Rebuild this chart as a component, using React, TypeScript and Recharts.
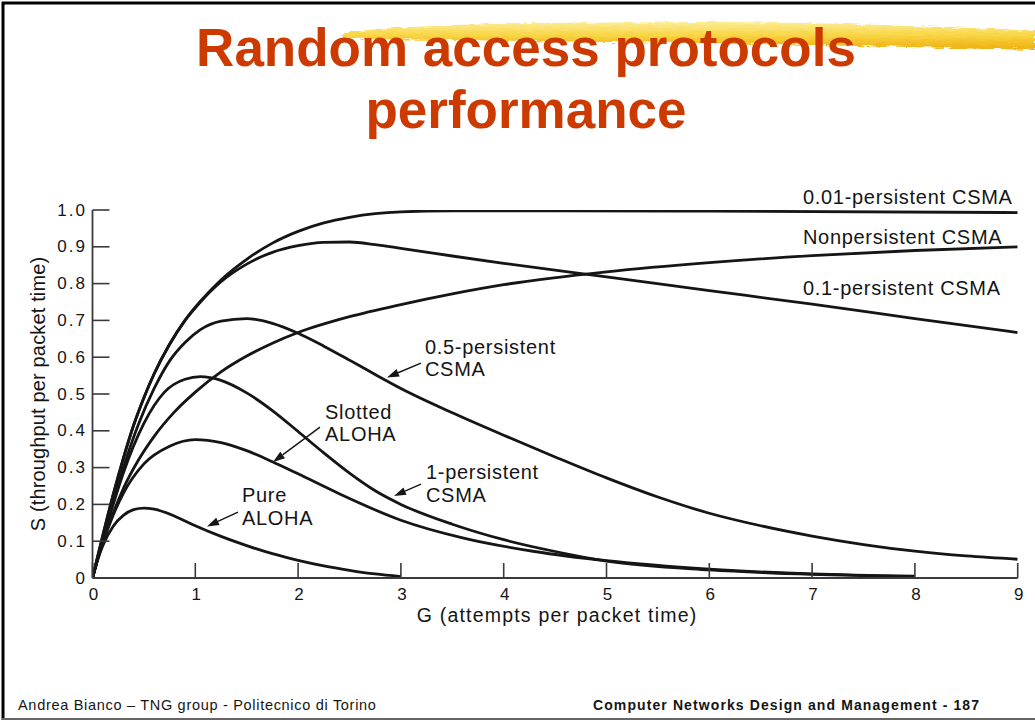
import React from 'react';
import { LineChart, Line, XAxis, YAxis, ReferenceDot, ReferenceLine } from 'recharts';

const FONT = '"Liberation Sans", Arial, Helvetica, sans-serif';

// ---- axes ----
const xTicks = [0, 1, 2, 3, 4, 5, 6, 7, 8, 9];
const yTicks = [0, 0.1, 0.2, 0.3, 0.4, 0.5, 0.6, 0.7, 0.8, 0.9, 1.0];
const yTickLabels = ['0', '0.1', '0.2', '0.3', '0.4', '0.5', '0.6', '0.7', '0.8', '0.9', '1.0'];

// ---- series (G = attempts per packet time, S = throughput per packet time) ----
const pureG = [0, 0.05, 0.1, 0.2, 0.3, 0.4, 0.5, 0.6, 0.8, 1.0, 1.25, 1.5, 1.75, 2.0, 2.25, 2.5, 2.75, 3.0];
const pureS = [0, 0.05, 0.088, 0.14, 0.17, 0.186, 0.19, 0.187, 0.168, 0.142, 0.113, 0.088, 0.066, 0.048, 0.033, 0.021, 0.011, 0.004];

const slottedG = [0, 0.05, 0.1, 0.2, 0.3, 0.5, 0.75, 1.0, 1.25, 1.5, 1.75, 2.0, 2.4, 3.0, 3.6, 4.3, 5.0, 6.0, 7.0, 8.0];
const slottedS = [0, 0.05, 0.095, 0.17, 0.23, 0.31, 0.358, 0.376, 0.368, 0.346, 0.316, 0.283, 0.229, 0.157, 0.109, 0.072, 0.047, 0.024, 0.011, 0.005];

const p1G = [0, 0.05, 0.1, 0.2, 0.3, 0.5, 0.7, 0.9, 1.05, 1.25, 1.5, 1.75, 2.0, 2.25, 2.5, 2.75, 3.0, 3.5, 4.0, 4.5, 5.0, 6.0, 7.0, 8.0];
const p1S = [0, 0.052, 0.103, 0.198, 0.285, 0.42, 0.505, 0.54, 0.547, 0.537, 0.503, 0.455, 0.398, 0.34, 0.285, 0.237, 0.2, 0.146, 0.104, 0.072, 0.046, 0.022, 0.01, 0.004];

const p05G = [0, 0.05, 0.1, 0.2, 0.3, 0.45, 0.6, 0.75, 0.9, 1.05, 1.25, 1.5, 1.75, 2.0, 2.25, 2.5, 2.75, 3.0, 3.5, 4.0, 4.5, 5.0, 5.5, 6.0, 6.5, 7.0, 7.5, 8.0, 8.5, 9.0];
const p05S = [0, 0.054, 0.107, 0.208, 0.3, 0.42, 0.515, 0.59, 0.64, 0.675, 0.698, 0.705, 0.692, 0.665, 0.63, 0.592, 0.553, 0.515, 0.449, 0.388, 0.329, 0.272, 0.22, 0.176, 0.142, 0.114, 0.091, 0.073, 0.06, 0.051];

const npG = [0, 0.05, 0.1, 0.2, 0.3, 0.45, 0.6, 0.8, 1.0, 1.25, 1.5, 1.75, 2.0, 2.5, 3.0, 3.5, 4.0, 5.0, 6.0, 7.0, 8.0, 9.0];
const npS = [0, 0.05, 0.095, 0.175, 0.243, 0.322, 0.385, 0.452, 0.505, 0.56, 0.603, 0.638, 0.667, 0.71, 0.743, 0.772, 0.797, 0.832, 0.857, 0.876, 0.89, 0.9];

const p001G = [0, 0.05, 0.1, 0.2, 0.3, 0.4, 0.5, 0.6, 0.75, 0.9, 1.05, 1.25, 1.5, 1.75, 2.0, 2.25, 2.5, 2.75, 3.0, 3.5, 4.5, 6.0, 9.0];
const p001S = [0, 0.058, 0.115, 0.225, 0.325, 0.415, 0.49, 0.555, 0.635, 0.7, 0.752, 0.81, 0.866, 0.91, 0.942, 0.965, 0.98, 0.99, 0.995, 0.998, 0.998, 0.997, 0.993];

const p01G = [0, 0.05, 0.1, 0.2, 0.3, 0.4, 0.5, 0.6, 0.75, 0.9, 1.05, 1.25, 1.5, 1.75, 2.0, 2.25, 2.5, 2.75, 3.0, 3.5, 4.0, 5.0, 6.0, 7.0, 8.0, 9.0];
const p01S = [0, 0.058, 0.115, 0.225, 0.325, 0.415, 0.49, 0.555, 0.635, 0.7, 0.75, 0.805, 0.853, 0.885, 0.903, 0.912, 0.913, 0.906, 0.896, 0.875, 0.855, 0.818, 0.781, 0.744, 0.705, 0.667];

const toPoints = (g: number[], s: number[]) => g.map((x, i) => ({ g: x, s: s[i] }));

const seriesList = [
  { key: 'pure', data: toPoints(pureG, pureS) },
  { key: 'slotted', data: toPoints(slottedG, slottedS) },
  { key: 'p1', data: toPoints(p1G, p1S) },
  { key: 'p05', data: toPoints(p05G, p05S) },
  { key: 'np', data: toPoints(npG, npS) },
  { key: 'p001', data: toPoints(p001G, p001S) },
  { key: 'p01', data: toPoints(p01G, p01S) },
];

// ---- annotations (anchored in data space) ----
const notes = [
  { g: 6.911, s: 1.016, lines: ['0.01-persistent CSMA'] },
  { g: 6.911, s: 0.908, lines: ['Nonpersistent CSMA'] },
  { g: 6.911, s: 0.769, lines: ['0.1-persistent CSMA'] },
  { g: 3.234, s: 0.609, lines: ['0.5-persistent', 'CSMA'] },
  { g: 2.262, s: 0.433, lines: ['Slotted', 'ALOHA'] },
  { g: 3.244, s: 0.268, lines: ['1-persistent', 'CSMA'] },
  { g: 1.454, s: 0.2065, lines: ['Pure', 'ALOHA'] },
];
const arrows = [
  { g1: 3.195, s1: 0.584, g2: 2.865, s2: 0.545 },
  { g1: 2.213, s1: 0.41, g2: 1.756, s2: 0.315 },
  { g1: 3.195, s1: 0.255, g2: 2.933, s2: 0.223 },
  { g1: 1.415, s1: 0.179, g2: 1.114, s2: 0.14 },
];

const INK = '#151515';

const noteShape = (lines: string[]) => (p: any) => (
  <text x={p.cx} y={p.cy} fill={INK} fontFamily={FONT} fontSize={20} letterSpacing={0.7}>
    {lines.map((t, i) => (
      <tspan key={i} x={p.cx} dy={i === 0 ? 0 : 22.5}>
        {t}
      </tspan>
    ))}
  </text>
);

const ArrowShape = (p: any) => {
  const { x1, y1, x2, y2 } = p;
  const ang = Math.atan2(y2 - y1, x2 - x1);
  const L = 12;
  const W = 4;
  const bx = x2 - L * Math.cos(ang);
  const by = y2 - L * Math.sin(ang);
  const px = -Math.sin(ang) * W;
  const py = Math.cos(ang) * W;
  return (
    <g>
      <line x1={x1} y1={y1} x2={bx} y2={by} stroke={INK} strokeWidth={1.4} />
      <polygon points={`${x2},${y2} ${bx + px},${by + py} ${bx - px},${by - py}`} fill={INK} />
    </g>
  );
};

const YTick = (p: any) => {
  const idx = yTicks.indexOf(p.payload.value);
  const label = idx >= 0 ? yTickLabels[idx] : String(p.payload.value);
  return (
    <text x={p.x + 2} y={p.y} textAnchor="end" dominantBaseline="central" fill={INK} fontFamily={FONT} fontSize={17} letterSpacing={2}>
      {label}
    </text>
  );
};

const XTick = (p: any) => (
  <text x={p.x + 1} y={p.y} dy="0.71em" textAnchor="middle" fill={INK} fontFamily={FONT} fontSize={17}>
    {String(p.payload.value)}
  </text>
);

const YTitle = (props: any) => {
  const vb = props.viewBox || { x: 32.5, y: 210, width: 60, height: 368 };
  const cx = vb.x + 5.5;
  const cy = vb.y + vb.height / 2;
  return (
    <text transform={`translate(${cx},${cy}) rotate(-90)`} textAnchor="middle" dominantBaseline="central" fill={INK} fontFamily={FONT} fontSize={20} letterSpacing={0.15}>
      S (throughput per packet time)
    </text>
  );
};

const XTitle = (props: any) => {
  const vb = props.viewBox || { x: 92.5, y: 578, width: 925, height: 30 };
  return (
    <text x={vb.x + vb.width / 2 + 2} y={vb.y + 44} textAnchor="middle" fill={INK} fontFamily={FONT} fontSize={19.5} letterSpacing={1.2}>
      G (attempts per packet time)
    </text>
  );
};

function Slide() {
  return (
    <svg width={1035} height={722} style={{ position: 'absolute', left: 0, top: 0 }}>
      <defs>
        <linearGradient id="hl" x1="0" y1="22" x2="0" y2="50" gradientUnits="userSpaceOnUse">
          <stop offset="0" stopColor="#FCEC92" />
          <stop offset="0.45" stopColor="#F9D53E" />
          <stop offset="0.8" stopColor="#F2B914" />
          <stop offset="1" stopColor="#EEAD0A" />
        </linearGradient>
        <filter id="rough" x="-5%" y="-50%" width="110%" height="200%">
          <feTurbulence type="fractalNoise" baseFrequency="0.09 0.6" numOctaves="2" seed="4" />
          <feDisplacementMap in="SourceGraphic" scale="5" xChannelSelector="R" yChannelSelector="G" />
        </filter>
      </defs>
      <rect x={0} y={0} width={1035} height={722} fill="#ffffff" />
      {/* frame */}
      <line x1={3} y1={2} x2={3} y2={720} stroke="#000" strokeWidth={3} />
      <line x1={2} y1={3} x2={1035} y2={3} stroke="#000" strokeWidth={3} />
      <line x1={2} y1={719} x2={1035} y2={719} stroke="#666" strokeWidth={2} />
      {/* highlighter stroke */}
      <path
        d="M 343 33 C 380 27, 450 25, 520 23 L 700 22 C 820 22, 950 27, 1035 31 L 1035 50 C 950 48, 820 45, 700 43 L 520 41 C 450 40, 390 40, 343 38 Z"
        fill="url(#hl)"
        opacity={0.95}
        filter="url(#rough)"
      />
      {/* title */}
      <text x={526} y={66} textAnchor="middle" fill="#CC3A00" fontFamily={FONT} fontWeight="bold" fontSize={53}>
        Random access protocols
      </text>
      <text x={526} y={128} textAnchor="middle" fill="#CC3A00" fontFamily={FONT} fontWeight="bold" fontSize={53}>
        performance
      </text>
      {/* footer */}
      <text x={18} y={710} fill={INK} fontFamily={FONT} fontSize={14.5} letterSpacing={0.7}>
        Andrea Bianco – TNG group - Politecnico di Torino
      </text>
      <text x={593} y={710} fill={INK} fontFamily={FONT} fontWeight="bold" fontSize={14} letterSpacing={1.1}>
        Computer Networks Design and Management - 187
      </text>
    </svg>
  );
}

export default function App() {
  return (
    <div style={{ position: 'absolute', left: 0, top: 0, width: 1035, height: 722, background: '#fff', overflow: 'hidden' }}>
      <Slide />
      <div style={{ position: 'absolute', left: 0, top: 0 }}>
        <LineChart width={1035} height={640} margin={{ top: 210, right: 17.3, bottom: 32, left: 32.5 }}>
          <XAxis
            type="number"
            dataKey="g"
            domain={[0, 9]}
            ticks={xTicks}
            interval={0}
            height={30}
            tickSize={-15}
            tickMargin={25}
            tick={<XTick />}
            axisLine={{ stroke: '#3a3a3a', strokeWidth: 1.8 }}
            tickLine={{ stroke: '#3a3a3a', strokeWidth: 1.6 }}
            label={<XTitle />}
            allowDataOverflow
          />
          <YAxis
            type="number"
            domain={[0, 1]}
            ticks={yTicks}
            interval={0}
            width={60}
            tickSize={-17}
            tickMargin={24.5}
            tick={<YTick />}
            axisLine={{ stroke: '#3a3a3a', strokeWidth: 1.8 }}
            tickLine={{ stroke: '#3a3a3a', strokeWidth: 1.6 }}
            label={<YTitle />}
            allowDataOverflow
          />
          {seriesList.map((s) => (
            <Line
              key={s.key}
              data={s.data}
              dataKey="s"
              type="monotone"
              stroke={INK}
              strokeWidth={2.8}
              dot={false}
              activeDot={false}
              isAnimationActive={false}
            />
          ))}
          {arrows.map((a, i) => (
            <ReferenceLine
              key={'a' + i}
              segment={[
                { x: a.g1, y: a.s1 },
                { x: a.g2, y: a.s2 },
              ]}
              ifOverflow="visible"
              shape={ArrowShape}
            />
          ))}
          {notes.map((n, i) => (
            <ReferenceDot key={'n' + i} x={n.g} y={n.s} r={0} ifOverflow="visible" shape={noteShape(n.lines)} />
          ))}
        </LineChart>
      </div>
    </div>
  );
}
